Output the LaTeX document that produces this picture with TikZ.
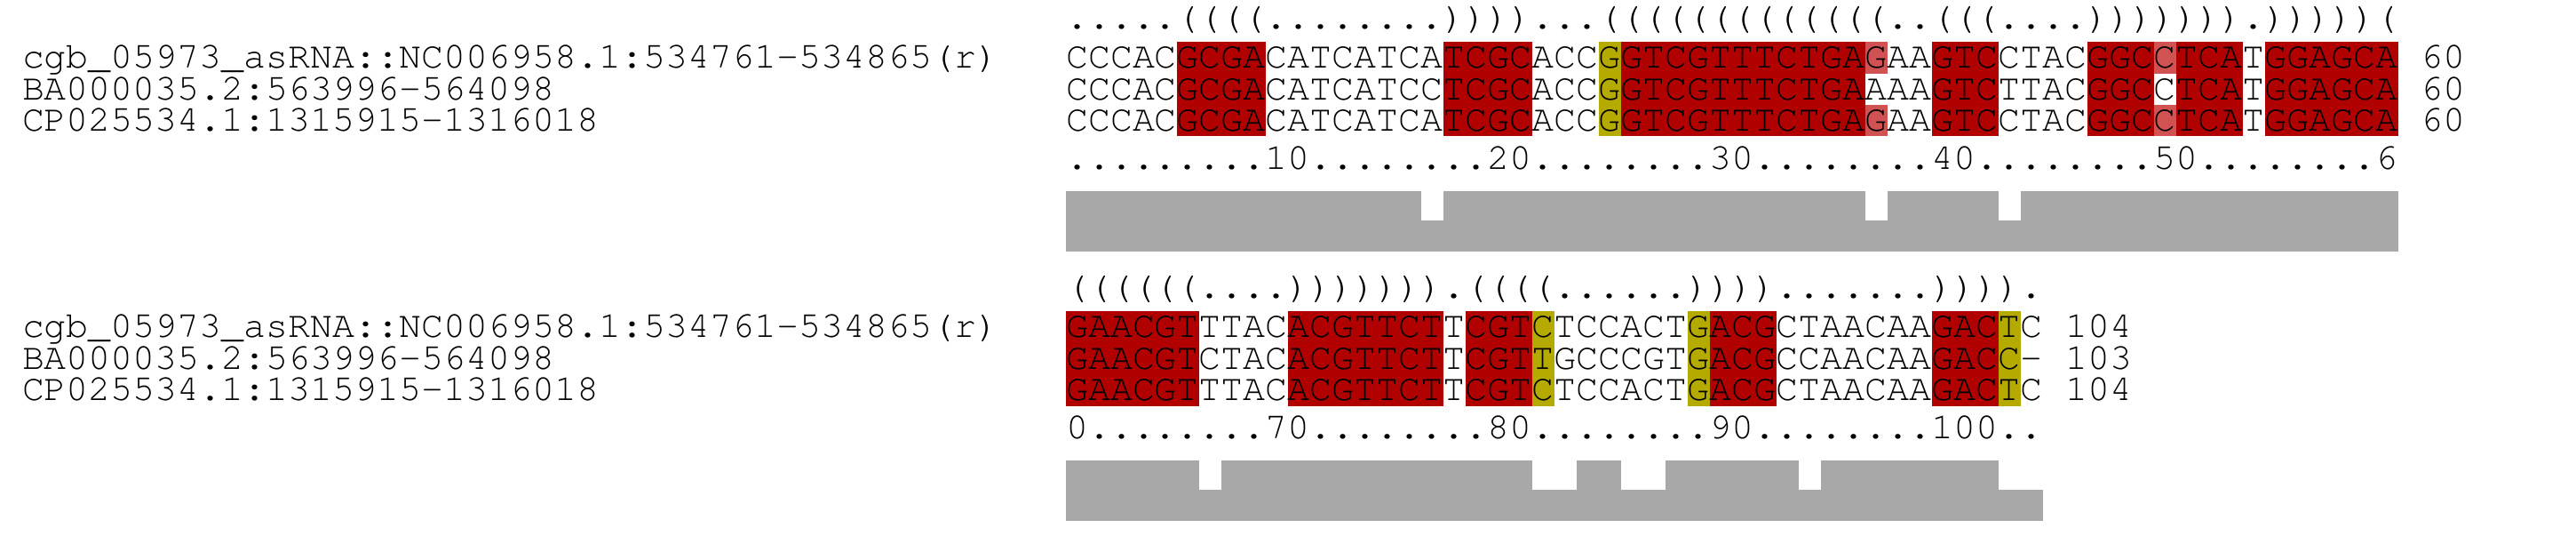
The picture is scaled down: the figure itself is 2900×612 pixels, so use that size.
\documentclass[tikz,border=0pt]{standalone}
\usepackage{fontspec}
\newfontfamily\seqf{TeX Gyre Cursor}
\definecolor{cred}{RGB}{176,0,0}
\definecolor{clight}{RGB}{208,82,82}
\definecolor{cyel}{RGB}{181,170,0}
\definecolor{cbar}{RGB}{168,168,168}
\tikzset{
  seq/.style={anchor=base west, inner sep=0pt, outer sep=0pt, font=\seqf\fontsize{41.66pt}{41.66pt}\selectfont},
}
\begin{document}
\begin{tikzpicture}[x=1pt,y=-1pt]
\useasboundingbox[fill=white] (0,0) rectangle (2900,612);
% ---------- block 1 cells ----------
\foreach \r in {0,1,2}{
  \foreach \a/\b in {5/8,17/20,25/35,39/41,46/48,50/52,54/59}
    \fill[cred] ({1200+25*\a},{47.3+35.4*\r}) rectangle ({1225+25*\b},{82.7+35.4*\r});
  \fill[cyel] (1800,{47.3+35.4*\r}) rectangle (1825,{82.7+35.4*\r});
}
\foreach \r in {0,2}{
  \foreach \a in {36,49}
    \fill[clight] ({1200+25*\a},{47.3+35.4*\r}) rectangle ({1225+25*\a},{82.7+35.4*\r});
}
% ---------- block 2 cells ----------
\foreach \r in {0,1,2}{
  \foreach \a/\b in {0/5,10/16,18/20,29/31,39/41}
    \fill[cred] ({1200+25*\a},{350.3+35.4*\r}) rectangle ({1225+25*\b},{385.7+35.4*\r});
  \foreach \a in {21,28,42}
    \fill[cyel] ({1200+25*\a},{350.3+35.4*\r}) rectangle ({1225+25*\a},{385.7+35.4*\r});
}
% ---------- conservation bars ----------
\fill[cbar] (1200,248) rectangle (2700,282.7);
\foreach \a/\b in {0/15,17/35,37/41,43/59}
  \fill[cbar] ({1200+25*\a},215) rectangle ({1225+25*\b},248.8);
\fill[cbar] (1200,551) rectangle (2300,585.7);
\foreach \a/\b in {0/5,7/20,23/24,27/32,34/41}
  \fill[cbar] ({1200+25*\a},518) rectangle ({1225+25*\b},551.8);
% ---------- block 1 text ----------
\node[seq] (st1) at (1200,33) {{.....}{((((}{........}{))))}{...}{(((((}{(((((}{(((}{..}{(((}{....}{)))))}{))}{.}{)))))}{(}};
\node[seq] (n1a) at (25,76.7) {cgb\_05973\_asRNA::NC006958.1:534761-534865(r)};
\node[seq] (n1b) at (25,112.1) {BA000035.2:563996-564098};
\node[seq] (n1c) at (25,147.5) {CP025534.1:1315915-1316018};
\node[seq] (s1a) at (1200,76.7) {{CCCAC}{GCGA}{CATCATCA}{TCGC}{ACC}{G}{GTCGTTTCTGA}{G}{AA}{GTC}{CTAC}{GGC}{C}{TCA}{T}{GGAGCA}};
\node[seq] (s1b) at (1200,112.1) {{CCCAC}{GCGA}{CATCATCC}{TCGC}{ACC}{G}{GTCGTTTCTGA}{A}{AA}{GTC}{TTAC}{GGC}{C}{TCA}{T}{GGAGCA}};
\node[seq] (s1c) at (1200,147.5) {{CCCAC}{GCGA}{CATCATCA}{TCGC}{ACC}{G}{GTCGTTTCTGA}{G}{AA}{GTC}{CTAC}{GGC}{C}{TCA}{T}{GGAGCA}};
\node[seq] (e1a) at (2725,76.7) {60};
\node[seq] (e1b) at (2725,112.1) {60};
\node[seq] (e1c) at (2725,147.5) {60};
\node[seq] (r1) at (1200,190.5) {{.........}{10}{........}{20}{........}{30}{........}{40}{........}{50}{........}{6}};
% ---------- block 2 text ----------
\node[seq] (st2) at (1200,336) {{(((((}{(}{....}{)))))}{))}{.}{((((}{......}{))))}{.......}{))))}{.}};
\node[seq] (n2a) at (25,379.7) {cgb\_05973\_asRNA::NC006958.1:534761-534865(r)};
\node[seq] (n2b) at (25,415.1) {BA000035.2:563996-564098};
\node[seq] (n2c) at (25,450.5) {CP025534.1:1315915-1316018};
\node[seq] (s2a) at (1200,379.7) {{GAACGT}{TTAC}{ACGTTCT}{T}{CGT}{C}{TCCACT}{G}{ACG}{CTAACAA}{GAC}{T}{C}};
\node[seq] (s2b) at (1200,415.1) {{GAACGT}{CTAC}{ACGTTCT}{T}{CGT}{T}{GCCCGT}{G}{ACG}{CCAACAA}{GAC}{C}{-}};
\node[seq] (s2c) at (1200,450.5) {{GAACGT}{TTAC}{ACGTTCT}{T}{CGT}{C}{TCCACT}{G}{ACG}{CTAACAA}{GAC}{T}{C}};
\node[seq] (e2a) at (2325,379.7) {104};
\node[seq] (e2b) at (2325,415.1) {103};
\node[seq] (e2c) at (2325,450.5) {104};
\node[seq] (r2) at (1200,493.5) {{0}{........}{70}{........}{80}{........}{90}{........}{100}{..}};
\end{tikzpicture}
\end{document}
